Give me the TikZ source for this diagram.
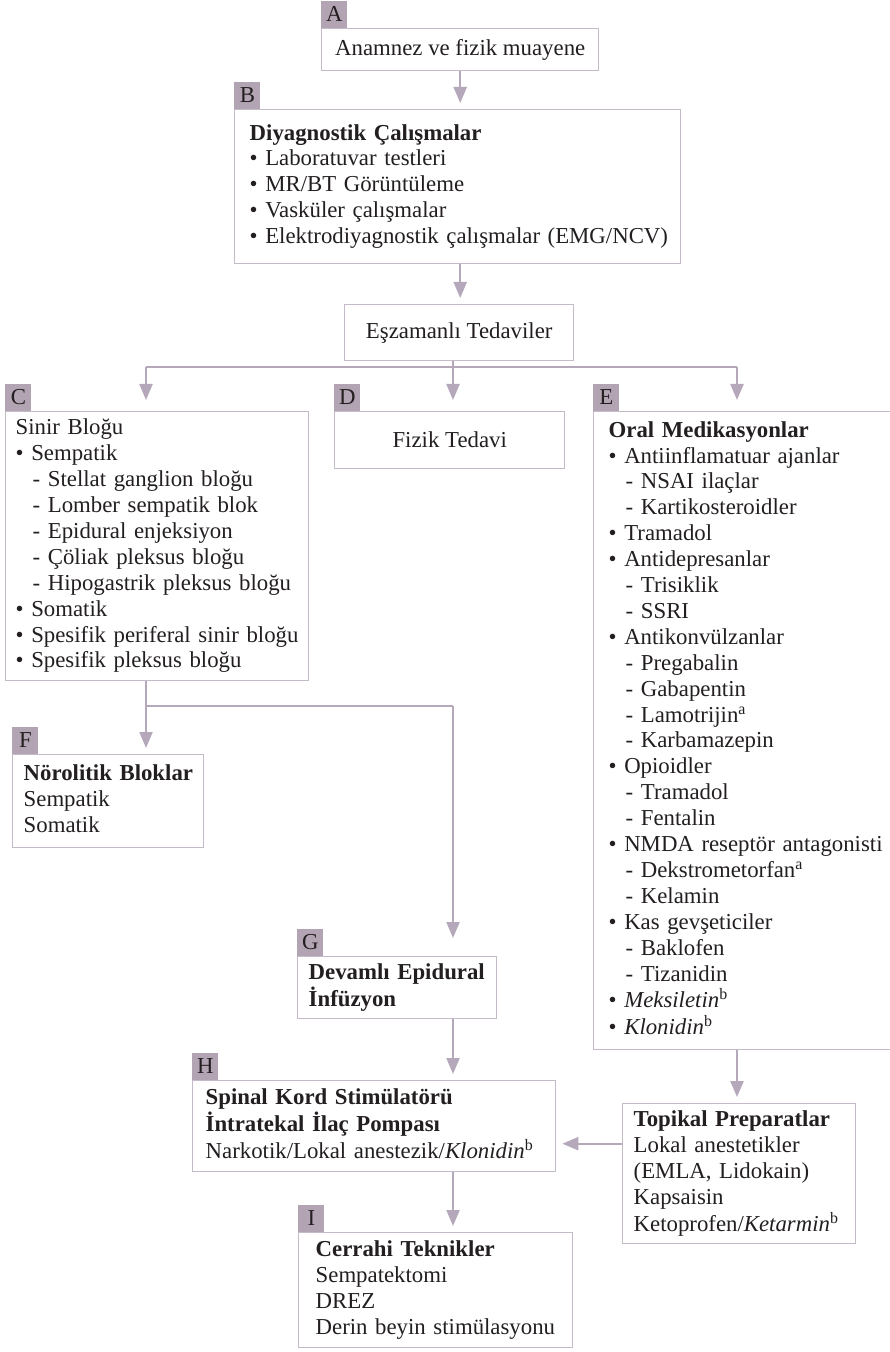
\documentclass[tikz,border=0pt]{standalone}
\usepackage{fontspec}
\setmainfont{Liberation Serif}
\usetikzlibrary{arrows.meta,positioning}
\definecolor{tabmauve}{HTML}{B3A4B4}
\definecolor{boxline}{HTML}{C5BAC7}
\definecolor{flowline}{HTML}{B4A8BA}
\definecolor{ink}{HTML}{231F20}
\newcommand{\boxtext}[1]{\begin{tabular}{@{}l@{}}#1\end{tabular}}
\newcommand{\bul}{\textbullet\ }
\newcommand{\dsh}{\hspace*{8.5pt}-\ }

\begin{document}
\begin{tikzpicture}[x=0.5pt,y=-0.5pt,
  box/.style={draw=boxline,line width=0.7pt,anchor=north west,inner ysep=0pt,align=left,
    font=\fontsize{11.4}{12.95}\selectfont,text=ink},
  cbox/.style={box,align=center},
  tab/.style={fill=tabmauve,anchor=south west,minimum width=13pt,minimum height=13.5pt,inner sep=0pt,
    font=\fontsize{11.4}{12.95}\selectfont,text=ink},
  flow/.style={draw=flowline,line width=1.1pt},
  arr/.style={flow,-{Triangle[length=8pt,width=6.5pt]},shorten >=3pt}]
  \fill[white] (0,0) rectangle (889,1352);
  \useasboundingbox (0,0) rectangle (889,1352);
  % boxes
  \node[cbox,minimum width=138.5pt,minimum height=21pt] (A) at (321,28) {Anamnez ve fizik muayene};
  \node[box,minimum width=223pt,minimum height=77pt,inner xsep=7.5pt,text width=208pt] (B) at (234,109)
    {\boxtext{\textbf{Diyagnostik Çalışmalar}\\ \bul Laboratuvar testleri\\ \bul MR/BT Görüntüleme\\
     \bul Vasküler çalışmalar\\ \bul Elektrodiyagnostik çalışmalar (EMG/NCV)}};
  \node[cbox,minimum width=114.5pt,minimum height=28pt] (Es) at (344,304) {Eşzamanlı Tedaviler};
  \node[box,minimum width=151.5pt,minimum height=134.5pt,inner xsep=5pt,text width=141.5pt] (C) at (5,411)
    {\boxtext{Sinir Bloğu\\ \bul Sempatik\\ \dsh Stellat ganglion bloğu\\ \dsh Lomber sempatik blok\\
     \dsh Epidural enjeksiyon\\ \dsh Çöliak pleksus bloğu\\ \dsh Hipogastrik pleksus bloğu\\
     \bul Somatik\\ \bul Spesifik periferal sinir bloğu\\ \bul Spesifik pleksus bloğu}};
  \node[cbox,minimum width=115pt,minimum height=28.5pt] (D) at (334,411) {Fizik Tedavi};
  \node[box,minimum width=160pt,minimum height=319pt,inner xsep=7.5pt,text width=145pt] (E) at (593,411)
    {\boxtext{\textbf{Oral Medikasyonlar}\\ \bul Antiinflamatuar ajanlar\\ \dsh NSAI ilaçlar\\
     \dsh Kartikosteroidler\\ \bul Tramadol\\ \bul Antidepresanlar\\ \dsh Trisiklik\\ \dsh SSRI\\
     \bul Antikonvülzanlar\\ \dsh Pregabalin\\ \dsh Gabapentin\\ \dsh Lamotrijin\textsuperscript{a}\\
     \dsh Karbamazepin\\ \bul Opioidler\\ \dsh Tramadol\\ \dsh Fentalin\\ \bul NMDA reseptör antagonisti\\
     \dsh Dekstrometorfan\textsuperscript{a}\\ \dsh Kelamin\\ \bul Kas gevşeticiler\\ \dsh Baklofen\\
     \dsh Tizanidin\\ \bul \textit{Meksiletin}\textsuperscript{b}\\ \bul \textit{Klonidin}\textsuperscript{b}}};
  \node[box,minimum width=95.5pt,minimum height=46.5pt,inner xsep=5.5pt,text width=84.5pt] (F) at (12,754)
    {\boxtext{\textbf{Nörolitik Bloklar}\\ Sempatik\\ Somatik}};
  \node[box,minimum width=99.5pt,minimum height=31pt,inner xsep=5.5pt,text width=88.5pt] (G) at (297,956)
    {\boxtext{\textbf{Devamlı Epidural}\\ \textbf{İnfüzyon}}};
  \node[box,minimum width=181.5pt,minimum height=45.5pt,inner xsep=6.5pt,text width=168.5pt] (H) at (192,1080)
    {\boxtext{\textbf{Spinal Kord Stimülatörü}\\ \textbf{İntratekal İlaç Pompası}\\
     Narkotik/Lokal anestezik/\textit{Klonidin}\textsuperscript{b}}};
  \node[box,minimum width=116.5pt,minimum height=70pt,inner xsep=5.5pt,text width=105.5pt] (T) at (622,1103)
    {\boxtext{\textbf{Topikal Preparatlar}\\ Lokal anestetikler\\ (EMLA, Lidokain)\\ Kapsaisin\\
     Ketoprofen/\textit{Ketarmin}\textsuperscript{b}}};
  \node[box,minimum width=137pt,minimum height=57.5pt,inner xsep=8.5pt,text width=120pt] (I) at (298,1232)
    {\boxtext{\textbf{Cerrahi Teknikler}\\ Sempatektomi\\ DREZ\\ Derin beyin stimülasyonu}};
  % letter tabs
  \node[tab] (tA) at (A.north west) {A}; \node[tab] (tB) at (B.north west) {B};
  \node[tab] (tC) at (C.north west) {C}; \node[tab] (tD) at (D.north west) {D};
  \node[tab] (tE) at (E.north west) {E}; \node[tab] (tF) at (F.north west) {F};
  \node[tab] (tG) at (G.north west) {G}; \node[tab] (tH) at (H.north west) {H};
  \node[tab] (tI) at (I.north west) {I};
  % connectors
  \coordinate (busL) at (146,367); \coordinate (busM) at (453,367); \coordinate (busR) at (737,367);
  \coordinate (fork) at (146,706); \coordinate (forkR) at (453,706);
  \draw[arr] (A.south) -- (A.south |- B.north);
  \draw[arr] (B.south -| A.south) -- (A.south |- Es.north);
  \draw[flow] (Es.south -| busM) -- (busM);
  \draw[flow] (busL) -- (busR);
  \draw[arr,shorten >=5.5pt] (busL) -- (busL |- C.north);
  \draw[arr,shorten >=5.5pt] (busM) -- (busM |- D.north);
  \draw[arr,shorten >=5.5pt] (busR) -- (busR |- E.north);
  \draw[flow] (C.south -| fork) -- (fork) -- (forkR);
  \draw[arr] (fork) -- (fork |- F.north);
  \draw[arr,shorten >=9pt] (forkR) -- (forkR |- G.north);
  \draw[arr] (G.south -| forkR) -- (forkR |- H.north);
  \draw[arr] (H.south -| forkR) -- (forkR |- I.north);
  \draw[arr] (E.south -| busR) -- (busR |- T.north);
  \draw[arr] ([yshift=15pt]T.west) -- ([yshift=15pt]T.west -| H.east);
\end{tikzpicture}
\end{document}
